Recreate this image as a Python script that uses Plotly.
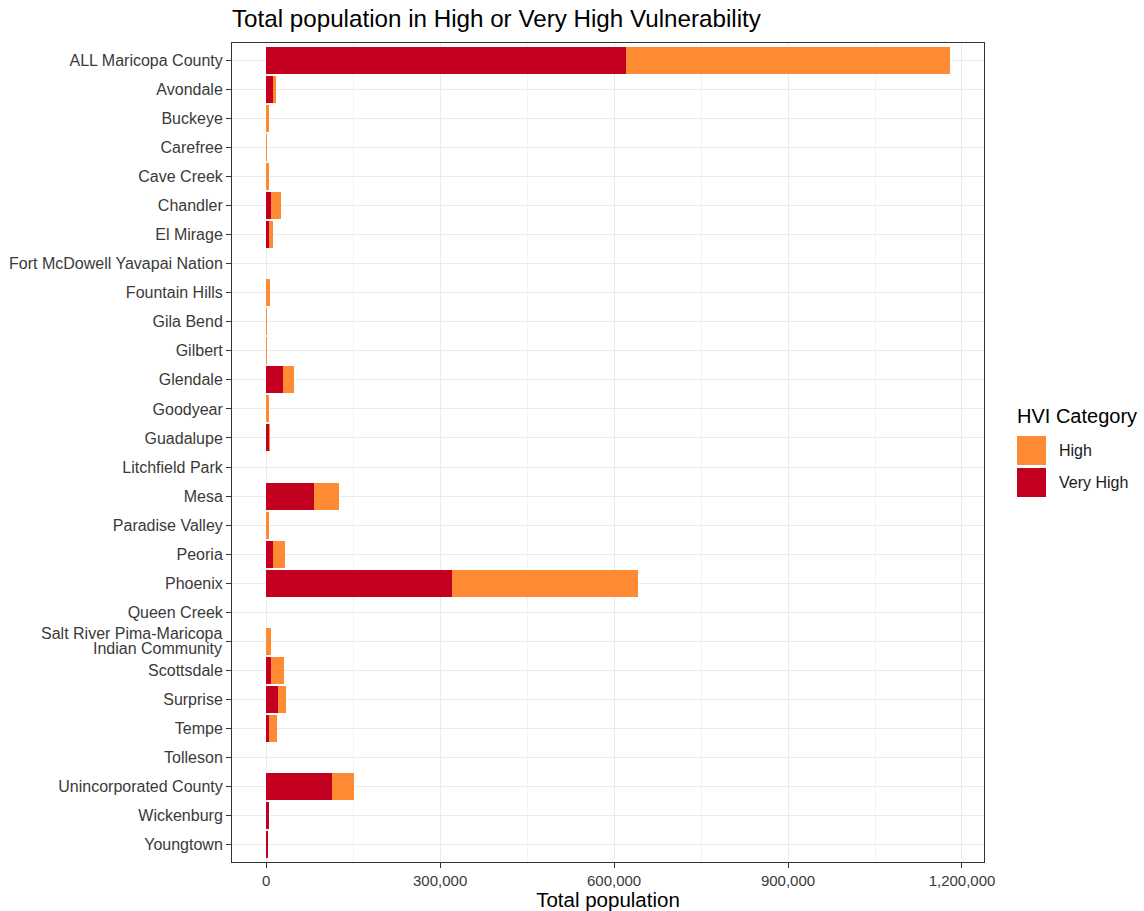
import plotly.graph_objects as go

# Places, top to bottom
places = [
    "ALL Maricopa County", "Avondale", "Buckeye", "Carefree", "Cave Creek",
    "Chandler", "El Mirage", "Fort McDowell Yavapai Nation", "Fountain Hills",
    "Gila Bend", "Gilbert", "Glendale", "Goodyear", "Guadalupe",
    "Litchfield Park", "Mesa", "Paradise Valley", "Peoria", "Phoenix",
    "Queen Creek", "Salt River Pima-Maricopa Indian Community", "Scottsdale",
    "Surprise", "Tempe", "Tolleson", "Unincorporated County", "Wickenburg",
    "Youngtown",
]
# long names are split over two tightly spaced lines
wrapped_labels = {
    "Salt River Pima-Maricopa Indian Community":
        ("Salt River Pima-Maricopa", "Indian Community"),
}

# Population in each HVI category
very_high = [620000, 12000, 0, 0, 0, 9000, 4000, 0, 0, 0, 0, 29000, 0, 6000,
             0, 83000, 0, 11000, 320000, 0, 0, 9000, 21000, 4000, 0, 113000,
             5000, 3500]
high = [559000, 5000, 5000, 800, 4000, 16000, 7000, 0, 6000, 600, 500, 19000,
        5000, 500, 0, 42000, 5000, 22000, 321000, 0, 8000, 21000, 13000, 14000,
        0, 39000, 0, 0]

x_ticks = [0, 300000, 600000, 900000, 1200000]

RED = "#C3001F"
ORANGE = "#FE8B34"
FONT = "Liberation Sans, Arial, sans-serif"
TICK_GREY = "#3A3A3A"

fig = go.Figure()
fig.add_trace(go.Bar(y=places, x=very_high, orientation="h", name="Very High",
                     marker=dict(color=RED, line=dict(width=0))))
fig.add_trace(go.Bar(y=places, x=high, orientation="h", name="High",
                     marker=dict(color=ORANGE, line=dict(width=0))))

totals = [a + b for a, b in zip(very_high, high)]
xmax = max(totals)
pad = 0.05 * xmax

W, H = 1144, 911
L, R, T, B = 232, 160, 43, 49
pw, ph = W - L - R, H - T - B
row_px = ph / (len(places) + 0.2)


def px_x(x):
    return (x - L) / pw


def px_y(y):
    return (H - B - y) / ph


shapes = []
annotations = []

# two-line category labels placed as annotations beside their tick
tick_text = []
for i, name in enumerate(places):
    if name in wrapped_labels:
        tick_text.append("")
        first, second = wrapped_labels[name]
        for line, off in ((first, -7.5), (second, 7.5)):
            annotations.append(dict(
                xref="paper", yref="y", x=px_x(224), y=i + off / row_px,
                text=line, showarrow=False, xanchor="right", yanchor="middle",
                font=dict(family=FONT, size=16, color=TICK_GREY)))
    else:
        tick_text.append(name)

# legend drawn by hand so the keys are large squares
legend_items = [("High", ORANGE, 436, 465), ("Very High", RED, 468, 497)]
for label, color, y0, y1 in legend_items:
    shapes.append(dict(type="rect", xref="paper", yref="paper",
                       x0=px_x(1017), x1=px_x(1046), y0=px_y(y1), y1=px_y(y0),
                       fillcolor=color, line=dict(width=0), layer="above"))
    annotations.append(dict(xref="paper", yref="paper", x=px_x(1057),
                            y=px_y((y0 + y1) / 2), text=label, showarrow=False,
                            xanchor="left", yanchor="middle",
                            font=dict(family=FONT, size=16, color="#1a1a1a")))
annotations.append(dict(xref="paper", yref="paper", x=px_x(1015), y=px_y(416),
                        text="HVI Category", showarrow=False, xanchor="left",
                        yanchor="middle",
                        font=dict(family=FONT, size=20, color="#000000")))

fig.update_layout(
    width=W, height=H,
    margin=dict(l=L, r=R, t=T, b=B, pad=0),
    paper_bgcolor="white", plot_bgcolor="white",
    barmode="stack", bargap=0.07, showlegend=False,
    font=dict(family=FONT, color="#000000"),
    title=dict(text="Total population in High or Very High Vulnerability",
               x=px_x(232), xref="paper", xanchor="left",
               y=1 - 18.5 / H, yref="container", yanchor="middle",
               font=dict(family=FONT, size=24.2, color="#000000")),
    shapes=shapes, annotations=annotations,
)

fig.update_xaxes(
    automargin=False,
    range=[-pad, xmax + pad], tickvals=x_ticks, tickformat=",d",
    showgrid=True, gridcolor="#EBEBEB", gridwidth=1,
    minor=dict(dtick=150000, tick0=0, showgrid=True, gridcolor="#F2F2F2",
               gridwidth=0.6),
    zeroline=False, showline=True, linecolor="#333333", linewidth=1,
    mirror=True, ticks="outside", ticklen=5, tickcolor="#333333",
    tickfont=dict(family=FONT, size=15, color=TICK_GREY),
    title=dict(text="Total population", standoff=3,
               font=dict(family=FONT, size=20.5, color="#000000")),
)
fig.update_yaxes(
    automargin=False,
    categoryorder="array", categoryarray=places,
    tickmode="array", tickvals=places, ticktext=tick_text,
    range=[len(places) - 0.4, -0.6],
    showgrid=True, gridcolor="#EBEBEB", gridwidth=1,
    zeroline=False, showline=True, linecolor="#333333", linewidth=1,
    mirror=True, ticks="outside", ticklen=5, tickcolor="#333333",
    tickfont=dict(family=FONT, size=16, color=TICK_GREY),
)

fig.write_html("out.html")
